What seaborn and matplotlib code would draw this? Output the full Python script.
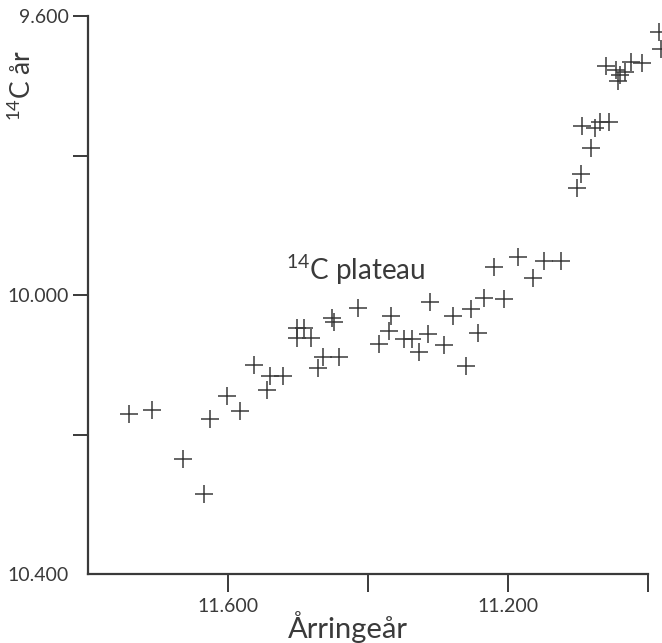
import matplotlib
matplotlib.use("Agg")
import matplotlib.pyplot as plt
import matplotlib.ticker as mticker
import seaborn as sns

# ring-width years (x) and 14C years (y)
ring_years = [11741, 11708, 11665, 11635, 11626, 11601, 11583, 11563, 11544, 11540,
              11521, 11502, 11491, 11502, 11481, 11452, 11449, 11414, 11465, 11442,
              11471, 11384, 11367, 11370, 11348, 11337, 11314, 11327, 11312, 11291,
              11279, 11253, 11243, 11260, 11235, 11206, 11220, 11186, 11165, 11148,
              11124, 11102, 11096, 11081, 11095, 11076, 11068, 11056, 11060, 11046,
              11040, 11043, 11033, 11024, 11009, 10984, 10981]
c14_years = [10171, 10165, 10235, 10285, 10178, 10145, 10166, 10100, 10136, 10116,
             10116, 10047, 10047, 10062, 10062, 10033, 10039, 10019, 10089, 10089,
             10105, 10070, 10030, 10052, 10063, 10063, 10056, 10082, 10010, 10072,
             10030, 10020, 10054, 10102, 10004, 10006, 9960, 9946, 9976, 9951,
             9951, 9847, 9827, 9789, 9758, 9761, 9752, 9752, 9672, 9677,
             9685, 9693, 9680, 9666, 9667, 9623, 9647]

x_ticks = [11600, 11400, 11200, 11000]
x_labeled = [11600, 11200]
y_ticks = [9600, 9800, 10000, 10200, 10400]
y_labeled = [9600, 10000, 10400]

sns.set_style("ticks")
plt.rcParams["font.family"] = ["Lato", "DejaVu Sans"]
plt.rcParams["mathtext.fontset"] = "custom"
plt.rcParams["mathtext.rm"] = "Lato"
plt.rcParams["mathtext.it"] = "Lato"

ink = "#3a3a3a"
fig = plt.figure(figsize=(6.62, 6.43), dpi=100)
ax = fig.add_axes([0.133, 0.107, 0.846, 0.868])

sns.scatterplot(x=ring_years, y=c14_years, ax=ax, marker="+", s=150,
                color=ink, linewidth=1.1, clip_on=False)

ax.set_xlim(11800, 11000)
ax.set_ylim(10400, 9600)


def fmt(labeled):
    def f(v, pos):
        v = int(round(v))
        return f"{v:,}".replace(",", ".") if v in labeled else ""
    return mticker.FuncFormatter(f)


ax.set_xticks(x_ticks)
ax.set_yticks(y_ticks)
ax.xaxis.set_major_formatter(fmt(x_labeled))
ax.yaxis.set_major_formatter(fmt(y_labeled))
ax.tick_params(axis="x", length=13, width=1.4, color=ink, labelcolor=ink,
               labelsize=14, pad=4)
ax.tick_params(axis="y", length=11, width=1.4, color=ink, labelcolor=ink,
               labelsize=14, pad=3)
ax.yaxis.get_major_ticks()[-1].tick1line.set_visible(False)

sns.despine(ax=ax)
for side in ["left", "bottom"]:
    ax.spines[side].set_color(ink)
    ax.spines[side].set_linewidth(1.6)

ax.set_xlabel("Årringeår", fontsize=21, color=ink)
ax.xaxis.set_label_coords(0.464, -0.066)
ax.set_ylabel("$^{14}$C år", fontsize=19, color=ink)
ax.yaxis.set_label_coords(-0.093, 0.875)

ax.text(11517, 9978, "$^{14}$C plateau", fontsize=20, color=ink,
        ha="left", va="baseline")

fig.savefig("out.png", dpi=100, facecolor="white")
